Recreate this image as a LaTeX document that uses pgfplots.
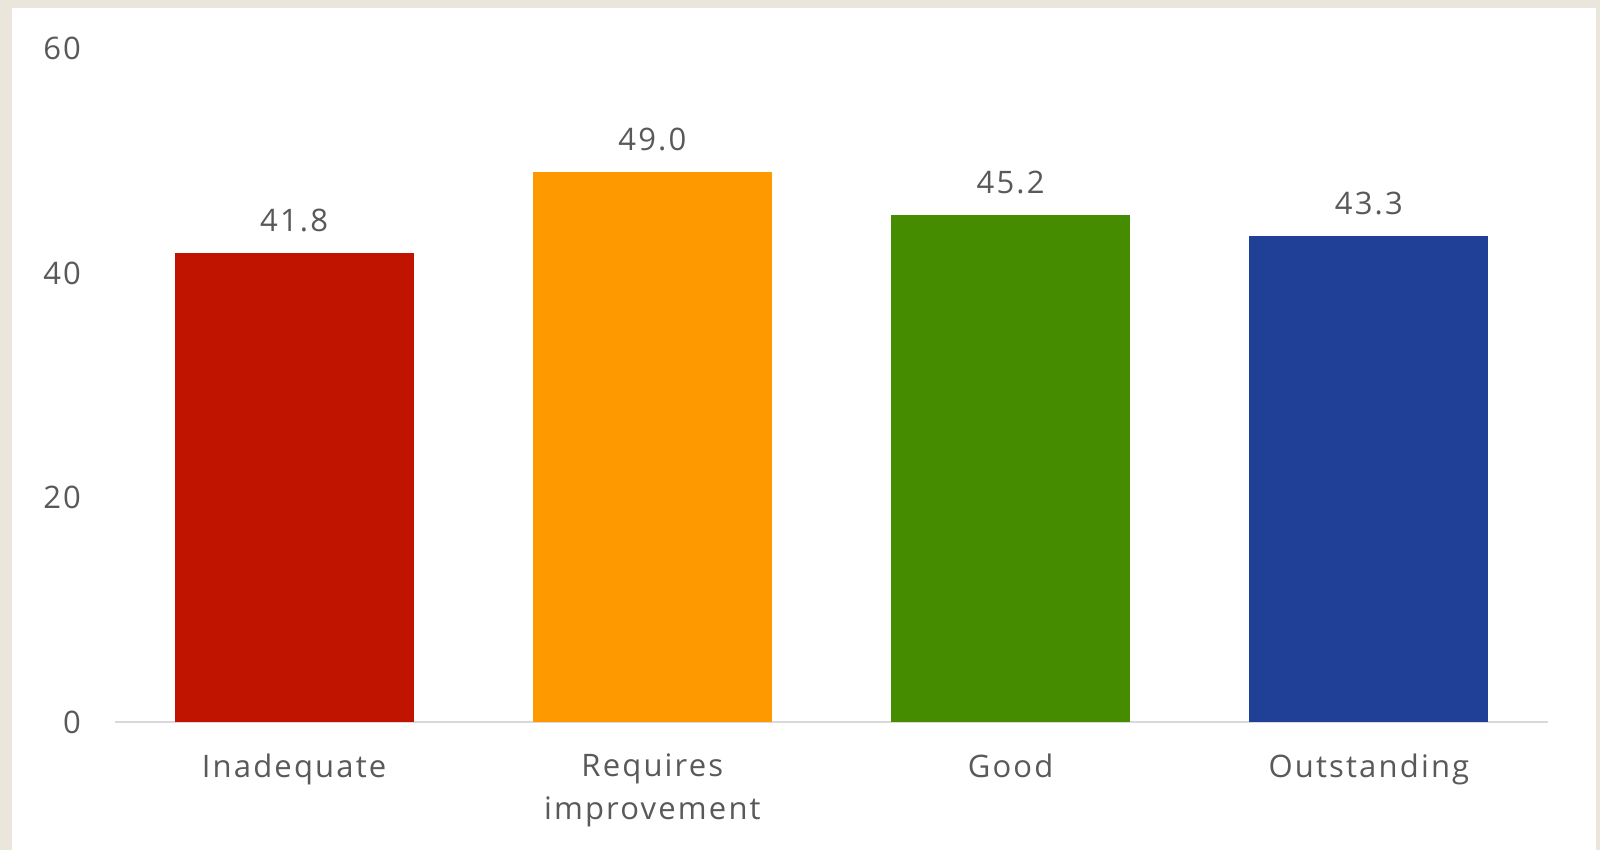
\documentclass[border=0pt]{standalone}
\usepackage{pgfplots}
\pgfplotsset{compat=1.18}
\usepackage{fontspec}
\setmainfont{Open Sans}[LetterSpace=7]
\definecolor{bgbeige}{HTML}{EAE6DC}
\definecolor{txt}{HTML}{595959}
\definecolor{axgray}{HTML}{D9D9D9}
\definecolor{cred}{HTML}{C01300}
\definecolor{corange}{HTML}{FF9900}
\definecolor{cgreen}{HTML}{468C00}
\definecolor{cblue}{HTML}{203F96}
\begin{document}
\begin{tikzpicture}
\fill[bgbeige] (0,0) rectangle (800pt,425pt);
\fill[white] (6pt,0) rectangle (798pt,421pt);
\useasboundingbox (0,0) rectangle (800pt,425pt);
\begin{axis}[
  at={(57.5pt,64pt)}, anchor=south west,
  scale only axis, width=716.5pt, height=336.75pt,
  xmin=-0.5, xmax=3.5, ymin=0, ymax=60,
  ytick={0,20,40,60},
  xtick={0,1,2,3},
  xticklabels={Inadequate,{Requires\\improvement},Good,Outstanding},
  xticklabel style={align=center, font=\fontsize{15.5}{21.5}\selectfont, text=txt, yshift=-12.5pt},
  yticklabel style={font=\fontsize{15.5}{18}\selectfont, text=txt, xshift=-13.5pt},
  /pgf/number format/assume math mode=true,
  axis x line*=bottom,
  axis y line*=left,
  axis line style={draw=none},
  major tick length=0pt,
  tick style={draw=none},
  ybar, bar width=119.4pt, bar shift=0pt,
  clip=false,
  nodes near coords,
  every node near coord/.append style={font=\fontsize{15.5}{18}\selectfont, text=txt, yshift=7pt},
  point meta=explicit symbolic,
]
\draw[axgray, line width=1pt] (axis cs:-0.5,0) -- (axis cs:3.5,0);
\addplot[fill=cred, draw=none] coordinates {(0,41.8) [41.8]};
\addplot[fill=corange, draw=none] coordinates {(1,49.0) [49.0]};
\addplot[fill=cgreen, draw=none] coordinates {(2,45.2) [45.2]};
\addplot[fill=cblue, draw=none] coordinates {(3,43.3) [43.3]};
\end{axis}
\end{tikzpicture}
\end{document}
